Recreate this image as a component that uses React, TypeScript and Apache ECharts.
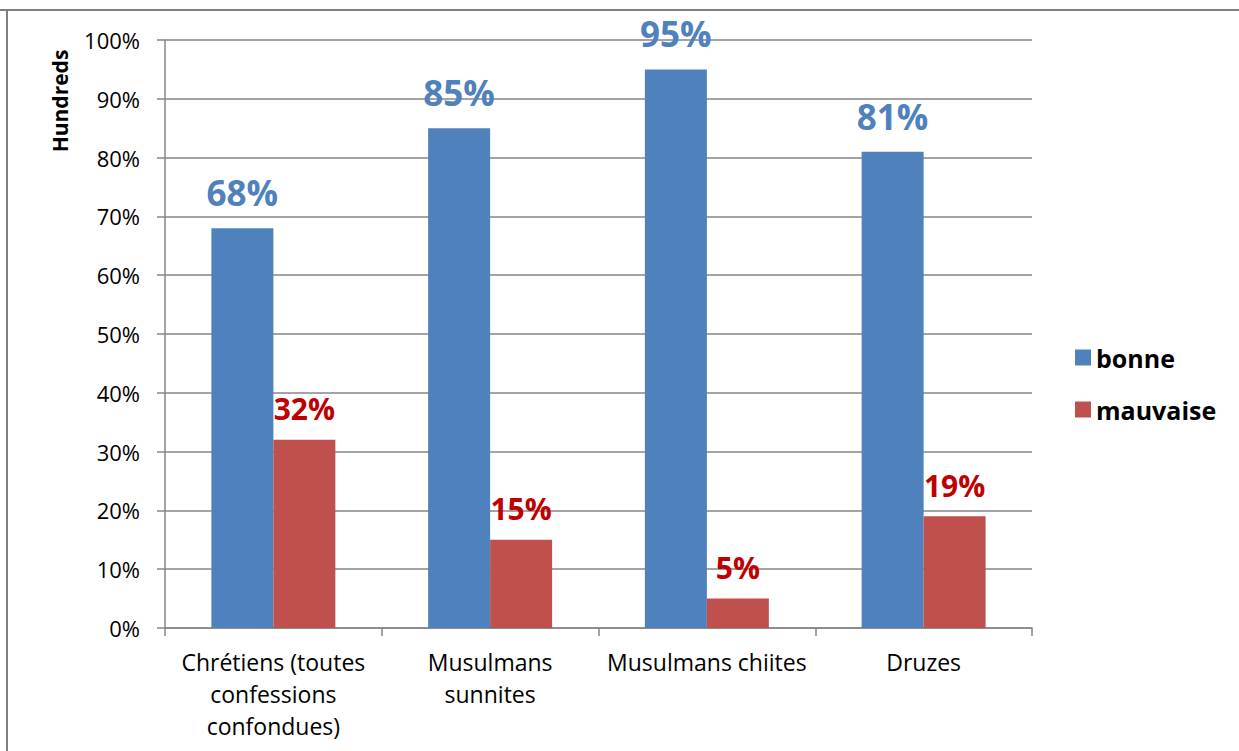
import React, { useEffect, useRef } from "react";
import * as echarts from "echarts";

const categories = [
  "Chrétiens (toutes\nconfessions\nconfondues)",
  "Musulmans\nsunnites",
  "Musulmans chiites",
  "Druzes",
];
const bonne = [68, 85, 95, 81];
const mauvaise = [32, 15, 5, 19];
const yTicks = [0, 10, 20, 30, 40, 50, 60, 70, 80, 90, 100];

const FONT = "'Open Sans', Lato, sans-serif";

export default function App() {
  const ref = useRef<HTMLDivElement>(null);
  useEffect(() => {
    if (!ref.current) return;
    const chart = echarts.init(ref.current, undefined, { renderer: "svg" });
    chart.setOption({
      animation: false,
      backgroundColor: "#ffffff",
      textStyle: { fontFamily: FONT },
      grid: { left: 165, right: 207, top: 40, bottom: 123, containLabel: false },
      legend: {
        orient: "vertical",
        left: 1070,
        top: 340,
        itemWidth: 16,
        itemHeight: 16,
        itemGap: 27,
        icon: "rect",
        textStyle: { fontFamily: FONT, fontSize: 25, fontWeight: "bold", color: "#000" },
        data: ["bonne", "mauvaise"],
      },
      graphic: [
        { type: "line", shape: { x1: 0, y1: 10, x2: 1239, y2: 10 }, style: { stroke: "#808080", lineWidth: 2 } },
        { type: "line", shape: { x1: 7, y1: 10, x2: 7, y2: 751 }, style: { stroke: "#808080", lineWidth: 2 } },
        {
          type: "text",
          x: 60,
          y: 101,
          rotation: Math.PI / 2,
          style: {
            text: "Hundreds",
            fontFamily: FONT,
            fontSize: 21,
            fontWeight: "bold",
            fill: "#000",
            align: "center",
            verticalAlign: "middle",
          },
        },
      ],
      xAxis: {
        type: "category",
        data: categories,
        axisLine: { lineStyle: { color: "#868686", width: 1.5 } },
        axisTick: { show: true, length: 8, lineStyle: { color: "#868686", width: 1.5 } },
        axisLabel: {
          fontFamily: FONT,
          fontSize: 23,
          color: "#000",
          lineHeight: 32,
          margin: 18,
          interval: 0,
        },
      },
      yAxis: {
        type: "value",
        min: 0,
        max: 100,
        interval: 10,
        axisLine: { show: true, lineStyle: { color: "#868686", width: 1.5 } },
        axisTick: { show: true, length: 8, lineStyle: { color: "#868686", width: 1.5 } },
        splitLine: { lineStyle: { color: "#868686", width: 1.5 } },
        axisLabel: {
          fontFamily: FONT,
          fontSize: 22,
          color: "#000",
          margin: 25,
          formatter: (v: number) => (yTicks.includes(v) ? v + "%" : ""),
        },
      },
      series: [
        {
          name: "bonne",
          type: "bar",
          data: bonne,
          barGap: "0%",
          barCategoryGap: "42.8%",
          itemStyle: { color: "#4f81bd" },
          label: {
            show: true,
            position: "top",
            distance: 18,
            formatter: "{c}%",
            fontFamily: FONT,
            fontSize: 35,
            fontWeight: "bold",
            color: "#4f81bd",
          },
        },
        {
          name: "mauvaise",
          type: "bar",
          data: mauvaise,
          barGap: "0%",
          barCategoryGap: "42.8%",
          itemStyle: { color: "#c0504d" },
          label: {
            show: true,
            position: "top",
            distance: 16,
            formatter: "{c}%",
            fontFamily: FONT,
            fontSize: 30,
            fontWeight: "bold",
            color: "#c00000",
          },
        },
      ],
    });
    return () => chart.dispose();
  }, []);
  return (
    <div
      ref={ref}
      style={{ position: "absolute", left: 0, top: 0, width: 1239, height: 751 }}
    />
  );
}
